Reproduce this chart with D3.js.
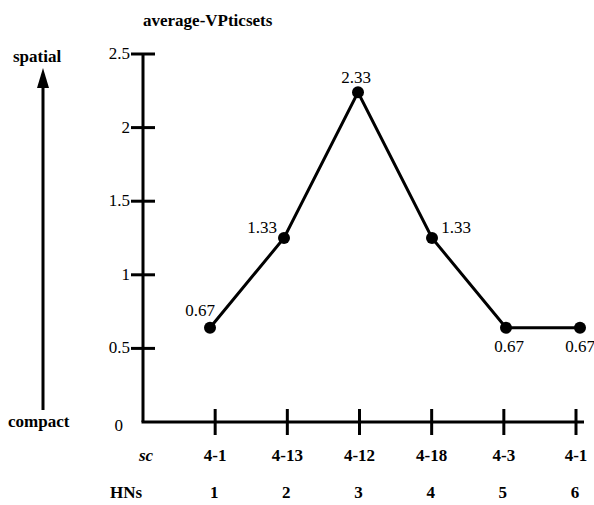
<!DOCTYPE html>
<html>
<head>
<meta charset="utf-8">
<script src="https://cdn.jsdelivr.net/npm/d3@7"></script>
<style>
  body { margin: 0; background: #fff; }
</style>
</head>
<body>
<div id="chart"></div>
<script>
// data
const hns = [1, 2, 3, 4, 5, 6];
const scLabels = ['4-1', '4-13', '4-12', '4-18', '4-3', '4-1'];
const plotted = [0.64, 1.25, 2.24, 1.25, 0.64, 0.64];
const valueLabels = ['0.67', '1.33', '2.33', '1.33', '0.67', '0.67'];
const yTicks = [0, 0.5, 1, 1.5, 2, 2.5];

const width = 594, height = 505;

const svg = d3.select('#chart').append('svg')
    .attr('width', width)
    .attr('height', height);

// small helper so every label gets the same serif font
function label(xp, yp, txt, opts = {}) {
    return svg.append('text')
        .attr('x', xp).attr('y', yp)
        .attr('text-anchor', opts.anchor || 'start')
        .style('font-family', '"Liberation Serif"')
        .style('font-size', (opts.size || 17) + 'px')
        .style('font-weight', opts.bold ? 'bold' : 'normal')
        .style('font-style', opts.italic ? 'italic' : 'normal')
        .style('fill', '#000')
        .text(txt);
}

// tick scale (axis) and point scale (marks sit slightly off the ticks)
const x = d3.scaleLinear().domain([0, 6]).range([143, 576]);
const xp = d3.scaleLinear().domain([1, 6]).range([210, 580]);
const y = d3.scaleLinear().domain([0, 2.5]).range([422, 54]);

// y axis
svg.append('line')
    .attr('x1', x(0)).attr('x2', x(0))
    .attr('y1', y(0)).attr('y2', y(2.5))
    .attr('stroke', '#000').attr('stroke-width', 3);

yTicks.filter(d => d > 0).forEach(t => {
    svg.append('line')
        .attr('x1', x(0) - 12).attr('x2', x(0) + 12)
        .attr('y1', y(t)).attr('y2', y(t))
        .attr('stroke', '#000').attr('stroke-width', 3);
});
yTicks.forEach(t => {
    label(t === 0 ? 123 : 130, t === 0 ? y(t) + 9 : y(t) + 5, t, { anchor: 'end' });
});

// x axis
svg.append('line')
    .attr('x1', x(0) - 1.5).attr('x2', x(6) + 8)
    .attr('y1', y(0)).attr('y2', y(0))
    .attr('stroke', '#000').attr('stroke-width', 3);

hns.forEach((h, i) => {
    svg.append('line')
        .attr('x1', x(h)).attr('x2', x(h))
        .attr('y1', y(0) - 13).attr('y2', y(0) + 13)
        .attr('stroke', '#000').attr('stroke-width', 3);
    label(x(h), 461, scLabels[i], { anchor: 'middle', bold: true });
    label(x(h) - 1, 498, h, { anchor: 'middle', bold: true });
});

label(139, 461, 'sc', { bold: true, italic: true });
label(110, 498, 'HNs', { bold: true });

// line + dots
const line = d3.line()
    .x((d, i) => xp(hns[i]))
    .y(d => y(d));

svg.append('path')
    .datum(plotted)
    .attr('d', line)
    .attr('fill', 'none')
    .attr('stroke', '#000')
    .attr('stroke-width', 3);

svg.selectAll('.dot')
    .data(plotted)
    .join('circle')
    .attr('cx', (d, i) => xp(hns[i]))
    .attr('cy', d => y(d))
    .attr('r', 6)
    .attr('fill', '#000');

// value labels
const labelOffsets = [[-10, -12], [-22, -5], [-2, -9], [24, -5], [3, 24], [0, 24]];
valueLabels.forEach((v, i) => {
    label(xp(hns[i]) + labelOffsets[i][0], y(plotted[i]) + labelOffsets[i][1], v, { anchor: 'middle' });
});

// title
label(143, 26, 'average-VPticsets', { bold: true });

// left arrow
label(13, 62, 'spatial', { bold: true });
label(8, 427, 'compact', { bold: true });

svg.append('line')
    .attr('x1', 43).attr('x2', 43)
    .attr('y1', 410).attr('y2', 85)
    .attr('stroke', '#000').attr('stroke-width', 3);

svg.append('path')
    .attr('d', 'M43,68 L37,88 L49,88 Z')
    .attr('fill', '#000');
</script>
</body>
</html>
